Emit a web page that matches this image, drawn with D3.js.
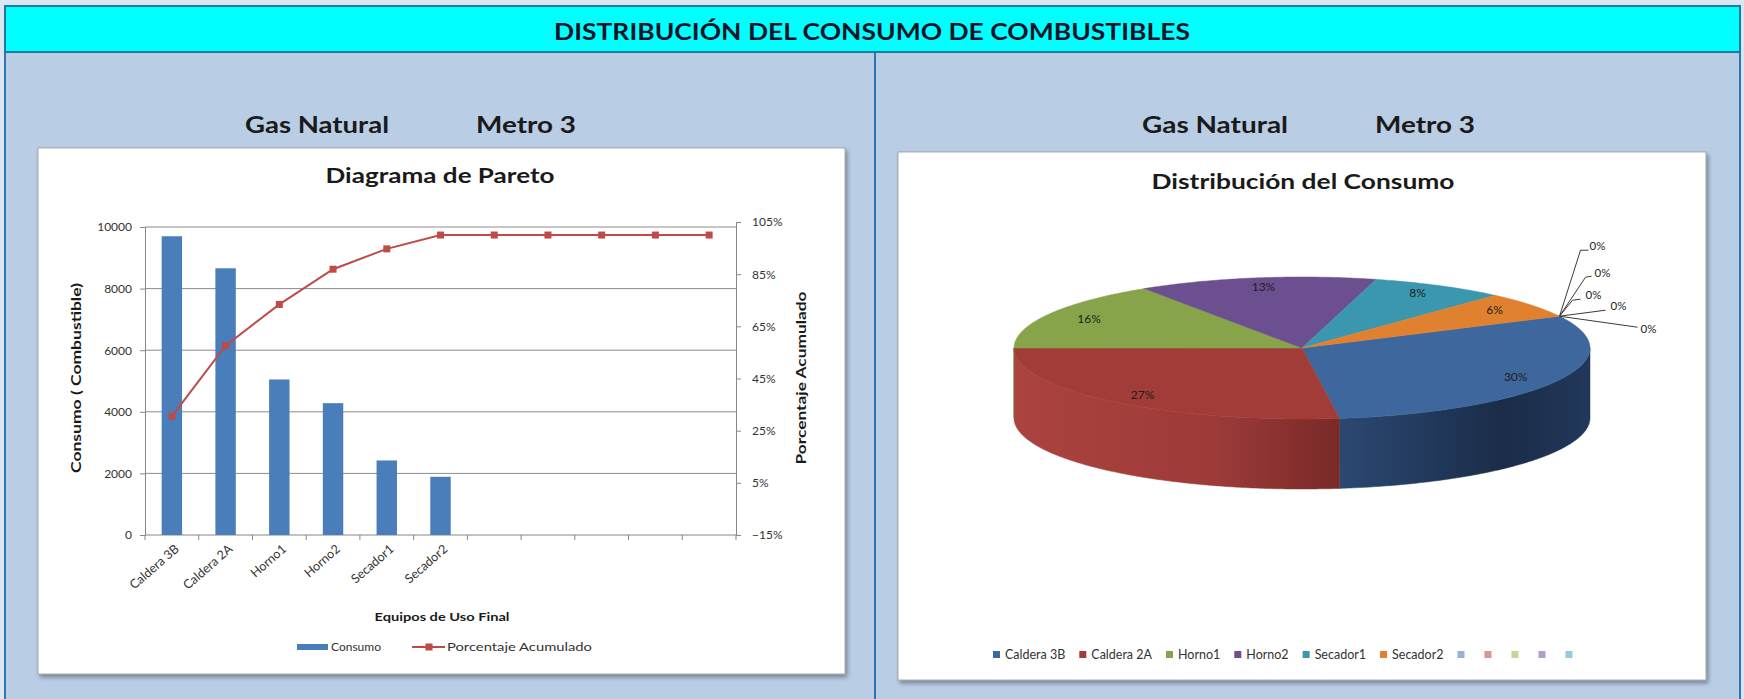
<!DOCTYPE html>
<html>
<head>
<meta charset="utf-8">
<script src="https://cdn.jsdelivr.net/npm/d3@7"></script>
<style>
  html, body { margin: 0; padding: 0; background: #dce6f2; }
  svg { display: block; font-family: Lato, "Open Sans", sans-serif; }
</style>
</head>
<body>
<svg id="chart" width="1744" height="699"></svg>
<script>
// ---------------- DATA ----------------
const categories = ["Caldera 3B", "Caldera 2A", "Horno1", "Horno2", "Secador1", "Secador2", "", "", "", "", ""];
const consumo = [9700, 8660, 5050, 4280, 2420, 1890, 0, 0, 0, 0, 0];
const acumulado = [0.305, 0.576, 0.734, 0.869, 0.947, 1.0, 1.0, 1.0, 1.0, 1.0, 1.0];
const leftTicks = [0, 2000, 4000, 6000, 8000, 10000];
const rightTicks = [-0.15, 0.05, 0.25, 0.45, 0.65, 0.85, 1.05];
const pieColors = ["#3d679d", "#a13c39", "#88a44b", "#6b4f8f", "#3a97ad", "#e0812f",
                   "#95b3d7", "#d99694", "#c3d69b", "#b2a1c7", "#93cddd"];
const legendSeries = ["Consumo", "Porcentaje Acumulado"];
const mainTitle = "DISTRIBUCIÓN DEL CONSUMO DE COMBUSTIBLES";

// ---------------- LAYOUT ----------------
const svg = d3.select("#chart");
const defs = svg.append("defs");
const sh = defs.append("filter").attr("id", "shadow").attr("x", "-5%").attr("y", "-5%").attr("width", "110%").attr("height", "115%");
sh.append("feDropShadow").attr("dx", 2).attr("dy", 3).attr("stdDeviation", 2)
  .attr("flood-color", "#000").attr("flood-opacity", 0.35);

// outer panel
svg.append("rect").attr("x", 5).attr("y", 6).attr("width", 1735).attr("height", 700)
  .attr("fill", "#b9cde5").attr("stroke", "#2e75b6").attr("stroke-width", 2);
// title bar
svg.append("rect").attr("x", 5).attr("y", 6).attr("width", 1735).attr("height", 46)
  .attr("fill", "#00ffff").attr("stroke", "#1f7a9c").attr("stroke-width", 2);
svg.append("text").attr("x", 872).attr("y", 40).attr("text-anchor", "middle")
  .attr("font-size", 22).attr("font-weight", "bold").attr("fill", "#141428")
  .attr("textLength", 636).attr("lengthAdjust", "spacingAndGlyphs").text(mainTitle);
// divider
svg.append("line").attr("x1", 875).attr("x2", 875).attr("y1", 52).attr("y2", 699)
  .attr("stroke", "#2e75b6").attr("stroke-width", 2);

// subtitles
const subs = [
  {t: "Gas Natural", x: 245, w: 144}, {t: "Metro 3", x: 476, w: 100},
  {t: "Gas Natural", x: 1142, w: 146}, {t: "Metro 3", x: 1375, w: 100}
];
subs.forEach(s => svg.append("text").attr("x", s.x).attr("y", 133).attr("font-size", 22)
  .attr("font-weight", "bold").attr("fill", "#1a1a1a")
  .attr("textLength", s.w).attr("lengthAdjust", "spacingAndGlyphs").text(s.t));

// chart boxes
svg.append("rect").attr("x", 38).attr("y", 148).attr("width", 807).attr("height", 526)
  .attr("fill", "#fff").attr("stroke", "#9a9a9a").attr("stroke-width", 0.8).attr("filter", "url(#shadow)");
svg.append("rect").attr("x", 898).attr("y", 152).attr("width", 808).attr("height", 528)
  .attr("fill", "#fff").attr("stroke", "#9a9a9a").attr("stroke-width", 0.8).attr("filter", "url(#shadow)");

// ---------------- PARETO ----------------
const axisCol = "#868686", txtCol = "#333";
const x = d3.scaleBand().domain(d3.range(categories.length)).range([145, 736])
  .paddingInner(0.62).paddingOuter(0.31);
const yL = d3.scaleLinear().domain([0, 10000]).range([535, 227]);
const yR = d3.scaleLinear().domain([-0.15, 1.05]).range([535, 222]);

svg.append("text").attr("x", 440).attr("y", 183).attr("text-anchor", "middle")
  .attr("font-size", 20).attr("font-weight", "bold").attr("fill", "#1a1a1a")
  .attr("textLength", 229).attr("lengthAdjust", "spacingAndGlyphs").text("Diagrama de Pareto");

// gridlines
svg.append("g").selectAll("line").data(leftTicks.filter(d => d > 0)).join("line")
  .attr("x1", 145).attr("x2", 736).attr("y1", d => yL(d)).attr("y2", d => yL(d))
  .attr("stroke", "#8c8c8c").attr("stroke-width", 1);

// left axis
const gL = svg.append("g").attr("transform", "translate(145,0)")
  .call(d3.axisLeft(yL).tickValues(leftTicks).tickSize(5).tickPadding(8).tickFormat(d3.format("d")));
gL.select(".domain").attr("stroke", axisCol);
gL.selectAll(".tick line").attr("stroke", axisCol);
gL.selectAll("text").attr("font-size", 12).attr("fill", txtCol).attr("font-family", "Lato, sans-serif");

// right axis
const gR = svg.append("g").attr("transform", "translate(736,0)")
  .call(d3.axisRight(yR).tickValues(rightTicks).tickSize(5).tickPadding(11).tickFormat(d3.format(".0%")));
gR.select(".domain").attr("stroke", axisCol);
gR.selectAll(".tick line").attr("stroke", axisCol);
gR.selectAll("text").attr("font-size", 12).attr("fill", txtCol).attr("font-family", "Lato, sans-serif");

// bottom axis
svg.append("line").attr("x1", 145).attr("x2", 736).attr("y1", 535).attr("y2", 535).attr("stroke", axisCol);
const step = x.step();
svg.append("g").selectAll("line").data(d3.range(categories.length + 1)).join("line")
  .attr("x1", i => 145 + i * step).attr("x2", i => 145 + i * step)
  .attr("y1", 535).attr("y2", 540).attr("stroke", axisCol);

// bars
svg.append("g").selectAll("rect").data(consumo).join("rect")
  .attr("x", (d, i) => x(i)).attr("width", x.bandwidth())
  .attr("y", d => yL(d)).attr("height", d => yL(0) - yL(d)).attr("fill", "#4a7ebb");

// line
const cx = i => x(i) + x.bandwidth() / 2;
svg.append("path").datum(acumulado)
  .attr("d", d3.line().x((d, i) => cx(i)).y(d => yR(d)))
  .attr("fill", "none").attr("stroke", "#be4b48").attr("stroke-width", 2);
svg.append("g").selectAll("rect").data(acumulado).join("rect")
  .attr("x", (d, i) => cx(i) - 3.5).attr("y", d => yR(d) - 3.5).attr("width", 7).attr("height", 7)
  .attr("fill", "#be4b48");

// x labels
svg.append("g").selectAll("text").data(categories).join("text")
  .attr("transform", (d, i) => `translate(${cx(i) + 5},${547}) rotate(-41)`)
  .attr("text-anchor", "end").attr("dy", "0.35em").attr("font-size", 12.5).attr("fill", txtCol)
  .text(d => d);

// axis titles
svg.append("text").attr("transform", "translate(81,378) rotate(-90)").attr("text-anchor", "middle")
  .attr("font-size", 13).attr("font-weight", "bold").attr("fill", "#1a1a1a")
  .attr("textLength", 190).attr("lengthAdjust", "spacingAndGlyphs").text("Consumo ( Combustible)");
svg.append("text").attr("transform", "translate(806,378) rotate(-90)").attr("text-anchor", "middle")
  .attr("font-size", 13).attr("font-weight", "bold").attr("fill", "#1a1a1a")
  .attr("textLength", 173).attr("lengthAdjust", "spacingAndGlyphs").text("Porcentaje Acumulado");
svg.append("text").attr("x", 442).attr("y", 621).attr("text-anchor", "middle")
  .attr("font-size", 12).attr("font-weight", "bold").attr("fill", "#1a1a1a")
  .attr("textLength", 135).attr("lengthAdjust", "spacingAndGlyphs").text("Equipos de Uso Final");

// legend (pareto)
svg.append("rect").attr("x", 297).attr("y", 644).attr("width", 31).attr("height", 6).attr("fill", "#4a7ebb");
svg.append("text").attr("x", 331).attr("y", 651).attr("font-size", 12).attr("fill", txtCol)
  .attr("textLength", 50).attr("lengthAdjust", "spacingAndGlyphs").text(legendSeries[0]);
svg.append("line").attr("x1", 412).attr("x2", 445).attr("y1", 647).attr("y2", 647)
  .attr("stroke", "#be4b48").attr("stroke-width", 2);
svg.append("rect").attr("x", 425.5).attr("y", 643.5).attr("width", 7).attr("height", 7).attr("fill", "#be4b48");
svg.append("text").attr("x", 447).attr("y", 651).attr("font-size", 12).attr("fill", txtCol)
  .attr("textLength", 145).attr("lengthAdjust", "spacingAndGlyphs").text(legendSeries[1]);

// ---------------- 3D PIE ----------------
const P = {cx: 1302, cy: 348, rx: 288, ry: 71, depth: 70};
const startDeg = 63.4;
const total = d3.sum(consumo);
const arcs = d3.pie().sort(null).value(d => d)
  .startAngle(startDeg * Math.PI / 180).endAngle(startDeg * Math.PI / 180 + 2 * Math.PI)(consumo);
const pt = (a, dy = 0) => [P.cx + P.rx * Math.sin(a), P.cy - P.ry * Math.cos(a) + dy];
const samples = (a0, a1, dy = 0) => {
  const n = Math.max(2, Math.ceil(Math.abs(a1 - a0) / 0.01));
  return d3.range(n + 1).map(k => pt(a0 + (a1 - a0) * k / n, dy));
};

svg.append("text").attr("x", 1303).attr("y", 189).attr("text-anchor", "middle")
  .attr("font-size", 20).attr("font-weight", "bold").attr("fill", "#1a1a1a")
  .attr("textLength", 303).attr("lengthAdjust", "spacingAndGlyphs").text("Distribución del Consumo");

// side gradients
const sideStops = [
  [["0", "#35568a"], ["0.55", "#2c4a75"], ["0.85", "#1a2c48"], ["1", "#22385a"]],
  [["0", "#ab433f"], ["0.35", "#9c3b38"], ["0.56", "#7a2a28"], ["1", "#6e2624"]]
];
const sideFill = pieColors.map((c, i) => {
  if (i < 2) {
    const g = defs.append("linearGradient").attr("id", "side" + i).attr("gradientUnits", "userSpaceOnUse")
      .attr("x1", P.cx - P.rx).attr("x2", P.cx + P.rx).attr("y1", 0).attr("y2", 0);
    sideStops[i].forEach(s => g.append("stop").attr("offset", s[0]).attr("stop-color", s[1]));
    return "url(#side" + i + ")";
  }
  return d3.color(c).darker(0.9);
});

const gPie = svg.append("g");
// side walls (front half: angle in (pi/2, 3pi/2) mod 2pi)
arcs.forEach((a, i) => {
  if (a.value <= 0) return;
  [0, 1].forEach(k => {
    const lo = Math.max(a.startAngle, Math.PI / 2 + 2 * Math.PI * k);
    const hi = Math.min(a.endAngle, 3 * Math.PI / 2 + 2 * Math.PI * k);
    if (hi > lo) {
      const top = samples(lo, hi), bot = samples(hi, lo, P.depth);
      gPie.append("path").attr("d", "M" + top.concat(bot).join("L") + "Z")
        .attr("fill", sideFill[i]).attr("stroke", sideFill[i]).attr("stroke-width", 0.5);
    }
  });
});
// top faces
arcs.forEach((a, i) => {
  if (a.value <= 0) return;
  const pts = [[P.cx, P.cy]].concat(samples(a.startAngle, a.endAngle));
  gPie.append("path").attr("d", "M" + pts.join("L") + "Z")
    .attr("fill", pieColors[i]).attr("stroke", pieColors[i]).attr("stroke-width", 0.5);
});
// labels
const fmt = d3.format(".0%");
arcs.forEach((a, i) => {
  if (a.value <= 0) return;
  const m = (a.startAngle + a.endAngle) / 2;
  gPie.append("text").attr("x", P.cx + 0.84 * P.rx * Math.sin(m)).attr("y", P.cy - 0.88 * P.ry * Math.cos(m))
    .attr("text-anchor", "middle").attr("dy", "0.35em").attr("font-size", 12).attr("fill", "#1e1e1e")
    .text(fmt(a.value / total));
});
// zero slice labels with leader lines
const zeroArcs = arcs.filter(a => a.value <= 0);
const leaderOffsets = [
  {elbow: [[21, -66], [29, -66]], label: [38, -70]},
  {elbow: [[26, -39], [32, -40]], label: [43, -43]},
  {elbow: [[13, -16], [21, -17]], label: [34, -21]},
  {elbow: [[46, -6]], label: [59, -10]},
  {elbow: [[78, 11]], label: [89, 13]}
];
zeroArcs.forEach((a, j) => {
  const o = pt(a.startAngle);
  const L = leaderOffsets[j];
  const pts = [o].concat(L.elbow.map(e => [o[0] + e[0], o[1] + e[1]]));
  gPie.append("path").attr("d", "M" + pts.join("L")).attr("fill", "none")
    .attr("stroke", "#3a3a3a").attr("stroke-width", 1);
  gPie.append("text").attr("x", o[0] + L.label[0]).attr("y", o[1] + L.label[1])
    .attr("text-anchor", "middle").attr("dy", "0.35em").attr("font-size", 11.5).attr("fill", "#1e1e1e")
    .text(fmt(a.value / total));
});

// pie legend
const gLeg = svg.append("g");
let lx = 993;
categories.forEach((c, i) => {
  gLeg.append("rect").attr("x", lx).attr("y", 651).attr("width", 7).attr("height", 7).attr("fill", pieColors[i]);
  lx += 7;
  if (c) {
    const t = gLeg.append("text").attr("x", lx + 5).attr("y", 659).attr("font-size", 12.5).attr("fill", txtCol).text(c);
    lx += 5 + t.node().getComputedTextLength() + 14;
  } else {
    lx += 20;
  }
});
</script>
</body>
</html>
